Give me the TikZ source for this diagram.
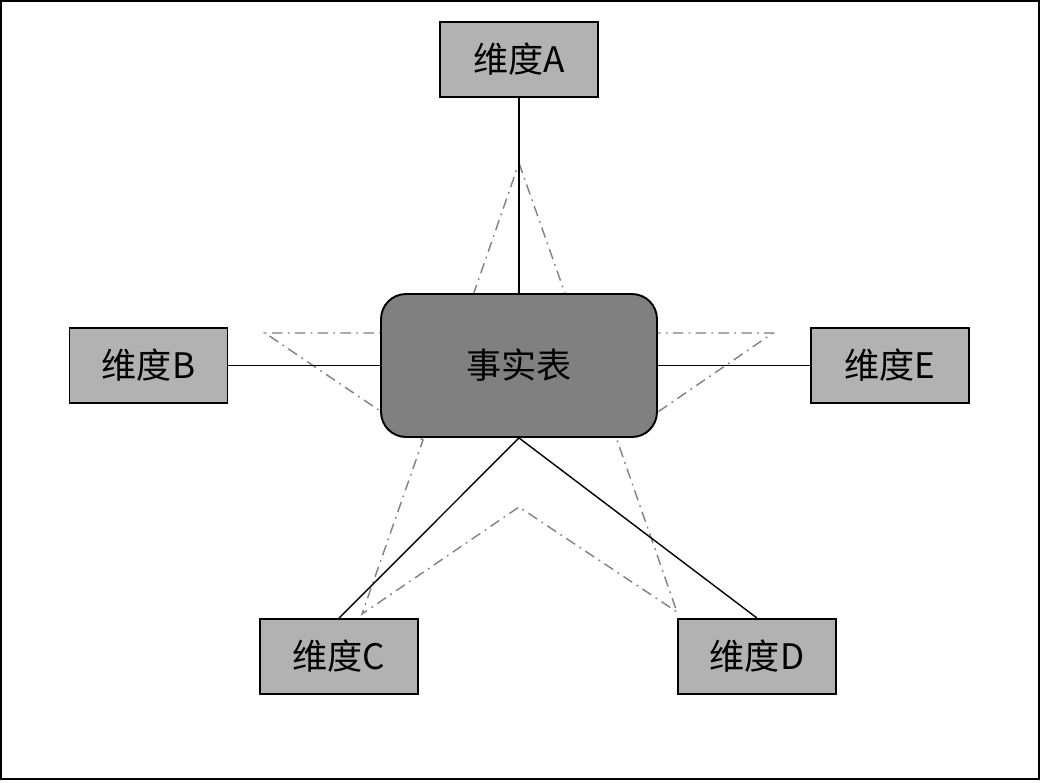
\documentclass[tikz,border=0pt]{standalone}
\usepackage{fontspec}
\setmainfont{Noto Sans CJK SC}
\usetikzlibrary{positioning}

\tikzset{
	dimbox/.style={draw, line width=1.1pt, fill=black!30, minimum width=3.16cm, minimum height=1.5cm, inner sep=0pt, font=\fontsize{20}{24}\selectfont},
	factbox/.style={draw, line width=1.1pt, fill=black!50, rounded corners=0.5cm, minimum width=5.52cm, minimum height=2.86cm, inner sep=0pt, font=\fontsize{20}{24}\selectfont},
	link/.style={line width=0.8pt},
	starline/.style={line width=0.8pt, black!50, dash pattern=on 6pt off 3pt on 1pt off 3pt}
}

\begin{document}
\begin{tikzpicture}[x=0.02cm, y=-0.02cm]
\useasboundingbox (0, 0) rectangle (1042, 782);
\draw[line width=1.4pt] (1, 1) rectangle (1039, 779);

% star behind the fact table
\draw[starline] (519, 163) -- (579, 333) -- (773, 333) -- (617, 440) -- (677, 612)
	-- (519, 507) -- (362, 614) -- (423, 440) -- (265, 333) -- (460, 333) -- cycle;

\node[factbox] (fact) at (519, 365.5) {事实表};

\node[dimbox] (dimA) at (519, 59.5) {维度A};
\node[dimbox] (dimB) at (148.5, 365.5) {维度B};
\node[dimbox] (dimE) at (890, 365.5) {维度E};
\node[dimbox] (dimC) at (339, 656.5) {维度C};
\node[dimbox] (dimD) at (757, 656.5) {维度D};

\draw[link] (dimA.south) -- (fact.north);
\draw[link] (dimB.east) -- (fact.west);
\draw[link] (fact.east) -- (dimE.west);
\draw[link] (fact.south) -- (dimC.north);
\draw[link] (fact.south) -- (dimD.north);

\end{tikzpicture}
\end{document}
